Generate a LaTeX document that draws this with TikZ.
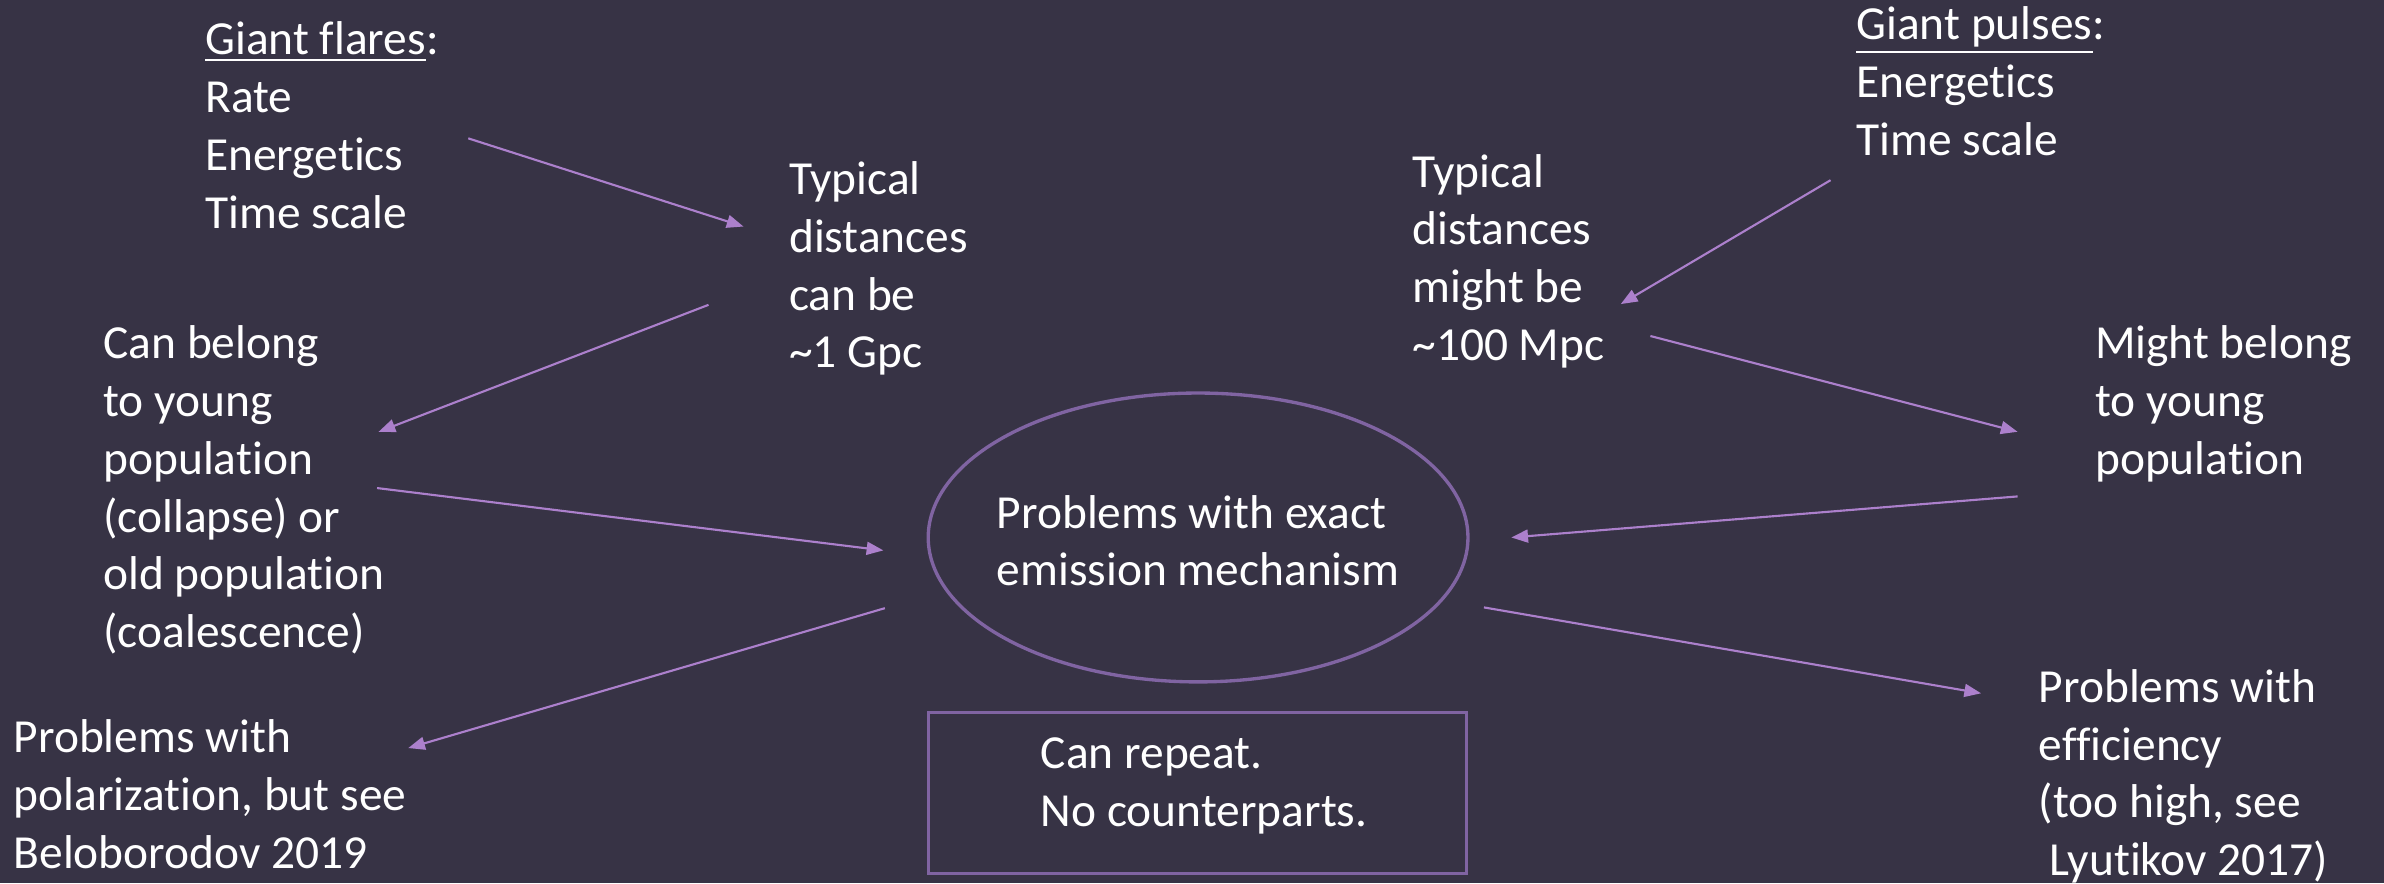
\documentclass[tikz,border=0pt]{standalone}
\usepackage{fontspec}
\setmainfont{Carlito}[Ligatures=NoCommon]
\usetikzlibrary{arrows.meta,shapes.geometric}

\definecolor{slidebg}{RGB}{55,51,69}
\definecolor{linkclr}{RGB}{172,128,204}
\definecolor{frameclr}{RGB}{128,100,162}

% left-aligned block whose baseline is that of its first line
\newcommand{\txtblock}[1]{\begin{tabular}[t]{@{}l@{}}#1\end{tabular}}
% underlined heading word(s)
\newcommand{\ulined}[1]{\vtop{\hbox{#1}\kern2.6pt\hrule height 1.3pt}}
% text block of zero size, centred on the node, first baseline raised by #1
\newcommand{\centblock}[3]{\makebox[0pt]{\hspace*{#2}\raisebox{#1}[0pt][0pt]{\txtblock{#3}}}}

\begin{document}
\begin{tikzpicture}[x=1pt,y=-1pt,
  every node/.style={text=white, inner sep=0pt, outer sep=0pt},
  font=\fontsize{31.2}{38}\selectfont,
  txt/.style={anchor=base west},
  conn/.style={draw=linkclr, line width=1.4pt, -{Triangle[length=11pt,width=8.5pt]}},
  bubble/.style={ellipse, draw=frameclr, line width=2.2pt, minimum width=355pt, minimum height=190pt},
  notebox/.style={rectangle, draw=frameclr, line width=2.2pt, minimum width=354pt, minimum height=106pt}]

  % slide background
  \fill[slidebg] (0,0) rectangle (1568,581);
  \useasboundingbox (0,0) rectangle (1568,581);

  % left branch
  \node[txt] (flares) at (135,36) {\txtblock{\ulined{Giant flares}:\\Rate\\Energetics\\Time scale}};
  \node[txt] (dist1) at (519,128) {\txtblock{Typical\\distances\\can be\\\textasciitilde1 Gpc}};
  \node[txt] (pop1) at (68,236) {\txtblock{Can belong\\to young\\population\\(collapse) or\\old population\\(coalescence)}};
  \node[txt] (pol) at (9,495) {\txtblock{Problems with\\polarization, but see\\Beloborodov 2019}};

  % centre
  \node[bubble] (mech) at (788,353.5) {\centblock{6.2pt}{0pt}{Problems with exact\\emission mechanism}};
  \node[notebox] (rep) at (787.5,521.5) {\centblock{16.2pt}{9pt}{Can repeat.\\No counterparts.}};

  % right branch
  \node[txt] (pulses) at (1221,26) {\txtblock{\ulined{Giant pulses}:\\Energetics\\Time scale}};
  \node[txt] (dist2) at (929,123) {\txtblock{Typical\\distances\\might be\\\textasciitilde100 Mpc}};
  \node[txt] (mightb) at (1378,236) {\txtblock{Might belong\\to young\\population}};
  \node[txt] (eff) at (1341,462) {\txtblock{Problems with\\efficiency\\(too high, see\\\ Lyutikov 2017)}};

  % connectors, left
  \draw[conn] ([shift={(173,55)}]flares.base west) -- ([shift={(-30,21)}]dist1.base west);
  \draw[conn] ([shift={(-53,72.5)}]dist1.base west) -- ([shift={(181,48)}]pop1.base west);
  \draw[conn] ([shift={(180,85)}]pop1.base west) -- ([shift={(-29.5,8.5)}]mech.west);
  \draw[conn] ([shift={(-28.5,46.5)}]mech.west) -- ([shift={(259.5,-3)}]pol.base west);

  % connectors, right
  \draw[conn] ([shift={(-17,92.5)}]pulses.base west) -- ([shift={(137,77)}]dist2.base west);
  \draw[conn] ([shift={(156.5,98)}]dist2.base west) -- ([shift={(-51,48)}]mightb.base west);
  \draw[conn] ([shift={(-51,90.5)}]mightb.base west) -- ([shift={(28.5,0)}]mech.east);
  \draw[conn] ([shift={(10.5,46)}]mech.east) -- ([shift={(-38,-6)}]eff.base west);
\end{tikzpicture}
\end{document}
